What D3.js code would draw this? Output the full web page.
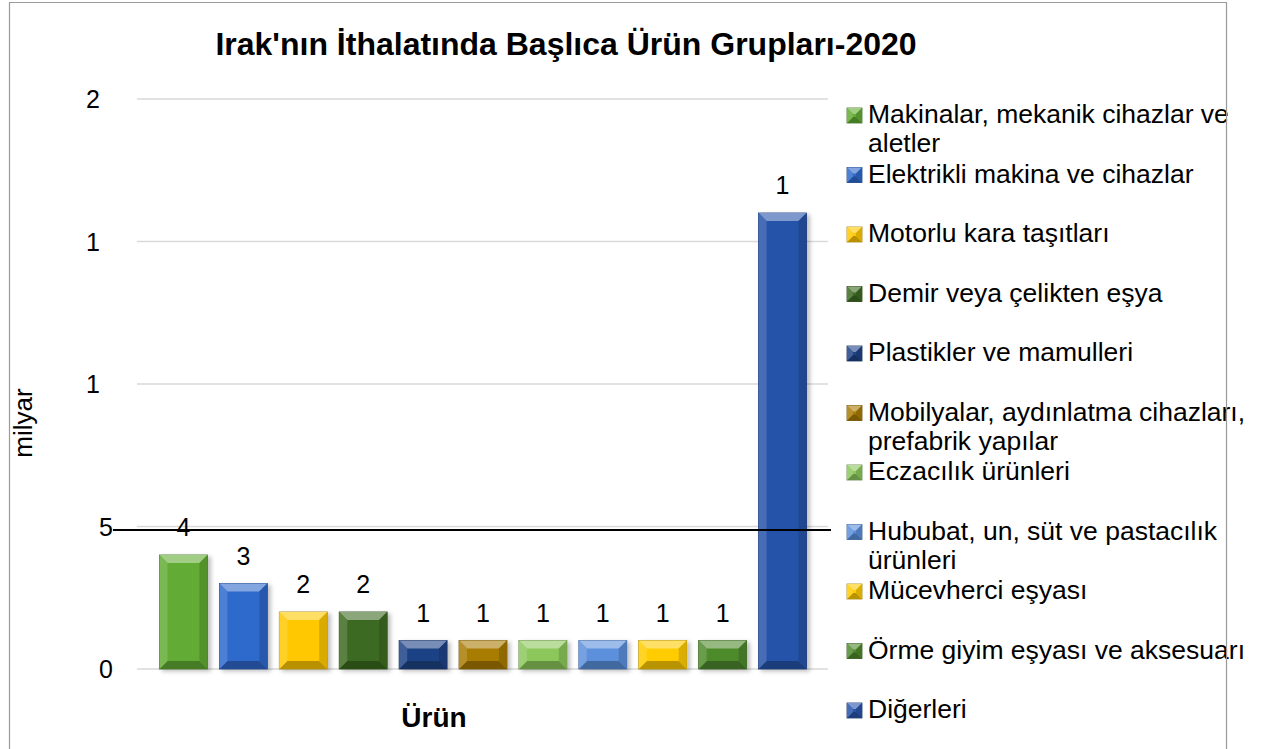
<!DOCTYPE html>
<html>
<head>
<meta charset="utf-8">
<script src="https://cdn.jsdelivr.net/npm/d3@7"></script>
<style>
  body { margin: 0; background: #fff; }
  svg { display: block; }
  text { font-family: "Liberation Sans", Arial, sans-serif; fill: #000; }
</style>
</head>
<body>
<div id="chart"></div>
<script>
// chart data
const categories = [
  "Makinalar, mekanik cihazlar ve\naletler",
  "Elektrikli makina ve cihazlar",
  "Motorlu kara taşıtları",
  "Demir veya çelikten eşya",
  "Plastikler ve mamulleri",
  "Mobilyalar, aydınlatma cihazları,\nprefabrik yapılar",
  "Eczacılık ürünleri",
  "Hububat, un, süt ve pastacılık\nürünleri",
  "Mücevherci eşyası",
  "Örme giyim eşyası ve aksesuarı",
  "Diğerleri"
];
const values = [0.4, 0.3, 0.2, 0.2, 0.1, 0.1, 0.1, 0.1, 0.1, 0.1, 1.6];
const valueLabels = ["4", "3", "2", "2", "1", "1", "1", "1", "1", "1", "1"];
const colors = ["#62ab34", "#2f69cc", "#ffc800", "#3d6b22", "#1f4386", "#a87b05",
                "#8cc75c", "#5b8fdc", "#ffcc00", "#4e8a2c", "#2753aa"];
const tickValues = [0, 0.5, 1, 1.5, 2];
const tickLabels = ["0", "5", "1", "1", "2"];
const refLine = [0.488]; // the stray black line across the plot

const width = 1261, height = 749;
const svg = d3.select("#chart").append("svg")
  .attr("width", width)
  .attr("height", height);

const defs = svg.append("defs");
const shadow = defs.append("filter").attr("id", "shadow")
  .attr("x", "-20%").attr("y", "-20%").attr("width", "150%").attr("height", "150%");
shadow.append("feDropShadow")
  .attr("dx", 3).attr("dy", 2).attr("stdDeviation", 2)
  .attr("flood-color", "#000").attr("flood-opacity", 0.25);

const y = d3.scaleLinear().domain([0, 2]).range([669, 99]);
const x = d3.scaleBand().domain(categories).range([153.5, 812.5])
  .paddingInner(0.2).paddingOuter(0.1);

// gridlines
svg.append("g").selectAll("line")
  .data(tickValues)
  .join("line")
  .attr("x1", 137).attr("x2", 828)
  .attr("y1", d => y(d)).attr("y2", d => y(d))
  .attr("stroke", "#d9d9d9").attr("stroke-width", 1.5);

// y tick labels
svg.append("g").selectAll("text")
  .data(tickValues)
  .join("text")
  .attr("x", d => d < 1 ? 113 : 100)
  .attr("y", d => y(d) + 9)
  .attr("text-anchor", "end")
  .style("font-size", "25px")
  .text((d, i) => tickLabels[i]);

// bevelled bar drawing
function bevel(g, bx, by, w, h, color, b) {
  const c = d3.color(color);
  const light = d3.interpolateRgb(color, "#fff")(0.4);
  const dark = c.darker(0.9).formatHex();
  g.append("rect").attr("x", bx).attr("y", by).attr("width", w).attr("height", h)
    .attr("fill", color).attr("stroke", c.darker(1.2).formatHex()).attr("stroke-width", 0.8);
  const pts = a => a.map(p => p.join(",")).join(" ");
  g.append("polygon").attr("fill", light)
    .attr("points", pts([[bx, by], [bx + w, by], [bx + w - b, by + b], [bx + b, by + b]]));
  g.append("polygon").attr("fill", dark)
    .attr("points", pts([[bx, by + h], [bx + w, by + h], [bx + w - b, by + h - b], [bx + b, by + h - b]]));
  g.append("polygon").attr("fill", d3.interpolateRgb(color, "#fff")(0.15))
    .attr("points", pts([[bx, by], [bx + b, by + b], [bx + b, by + h - b], [bx, by + h]]));
  g.append("polygon").attr("fill", c.darker(0.45).formatHex())
    .attr("points", pts([[bx + w, by], [bx + w - b, by + b], [bx + w - b, by + h - b], [bx + w, by + h]]));
}

const bars = svg.append("g");
categories.forEach((c, i) => {
  const g = bars.append("g").attr("filter", "url(#shadow)");
  bevel(g, x(c), y(values[i]), x.bandwidth(), y(0) - y(values[i]), colors[i], 8);
});

// data labels
svg.append("g").selectAll("text")
  .data(categories)
  .join("text")
  .attr("x", d => x(d) + x.bandwidth() / 2)
  .attr("y", (d, i) => y(values[i]) - 19)
  .attr("text-anchor", "middle")
  .style("font-size", "25px")
  .text((d, i) => valueLabels[i]);

// stray reference line
svg.append("g").selectAll("line")
  .data(refLine)
  .join("line")
  .attr("x1", 113).attr("x2", 831)
  .attr("y1", d => y(d)).attr("y2", d => y(d))
  .attr("stroke", "#000").attr("stroke-width", 2);

// title
svg.append("text")
  .attr("x", 566).attr("y", 55)
  .attr("text-anchor", "middle")
  .style("font-size", "32px").style("font-weight", "bold")
  .text("Irak'nın İthalatında Başlıca Ürün Grupları-2020");

// axis titles
svg.append("text")
  .attr("transform", "translate(32,423) rotate(-90)")
  .attr("text-anchor", "middle")
  .style("font-size", "26px")
  .text("milyar");

svg.append("text")
  .attr("x", 434).attr("y", 727)
  .attr("text-anchor", "middle")
  .style("font-size", "28px").style("font-weight", "bold")
  .text("Ürün");

// legend
const legend = svg.append("g");
categories.forEach((c, i) => {
  const base = 123 + i * 59.5;
  const g = legend.append("g");
  bevel(g, 847, base - 15, 15, 15, colors[i], 6);
  const t = legend.append("text").attr("x", 868).attr("y", base).style("font-size", "26.5px");
  c.split("\n").forEach((line, j) => {
    t.append("tspan").attr("x", 868).attr("dy", j === 0 ? 0 : 29).text(line);
  });
});

// outer border (open at the bottom)
svg.append("path")
  .attr("d", "M9.5,749 V2.5 H1226.5 V749")
  .attr("fill", "none").attr("stroke", "#9a9a9a").attr("stroke-width", 1.2);
</script>
</body>
</html>
